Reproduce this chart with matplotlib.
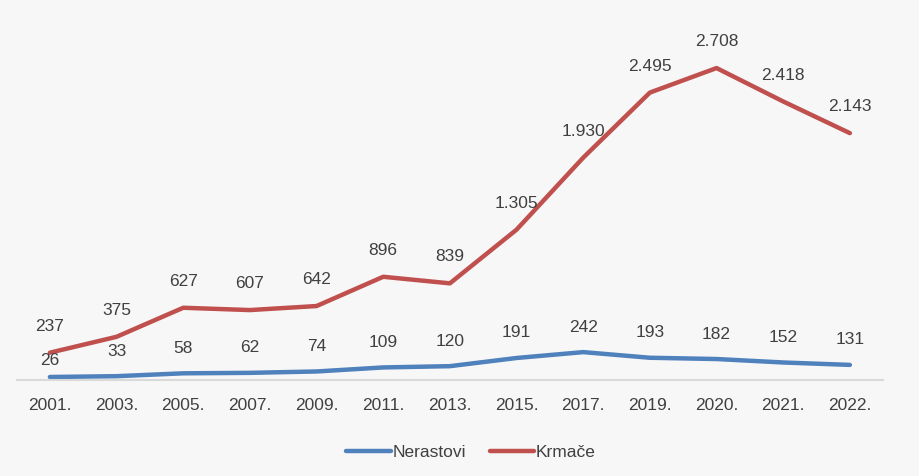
import matplotlib
matplotlib.use("Agg")
import matplotlib.pyplot as plt

years = ["2001.", "2003.", "2005.", "2007.", "2009.", "2011.", "2013.", "2015.", "2017.", "2019.", "2020.", "2021.", "2022."]
nerastovi = [26, 33, 58, 62, 74, 109, 120, 191, 242, 193, 182, 152, 131]
krmace = [237, 375, 627, 607, 642, 896, 839, 1305, 1930, 2495, 2708, 2418, 2143]

def fmt(v):
    return f"{v:,}".replace(",", ".")

fs = 12.5
plt.rcParams['font.family'] = ['Liberation Sans', 'DejaVu Sans']
bg = "#f7f7f7"
fig = plt.figure(figsize=(9.2, 4.76), dpi=100, facecolor=bg)
ax = fig.add_axes([0.018, 0.2017, 0.942, 0.726], facecolor=bg)

x = list(range(len(years)))
blue = "#4f81bd"
red = "#c0504d"
ax.plot(x, nerastovi, color=blue, lw=3.2, solid_capstyle="round", label="Nerastovi")
ax.plot(x, krmace, color=red, lw=3.2, solid_capstyle="round", label="Krmače")

txtc = "#404040"
for i, v in enumerate(nerastovi):
    off = 12 if i == 0 else 18
    ax.annotate(fmt(v), (i, v), xytext=(0, off), textcoords="offset points",
                ha="center", va="center", fontsize=fs, color=txtc)
for i, v in enumerate(krmace):
    ax.annotate(fmt(v), (i, v), xytext=(0, 19), textcoords="offset points",
                ha="center", va="center", fontsize=fs, color=txtc)

ax.set_xlim(-0.5, 12.5)
ax.set_ylim(0, 3000)
ax.set_xticks(x)
ax.set_xticklabels(years, fontsize=fs, color=txtc)
ax.tick_params(axis="x", length=0, pad=13)
ax.set_yticks([])
for s in ["top", "right", "left"]:
    ax.spines[s].set_visible(False)
ax.spines["bottom"].set_color("#d9d9d9")
ax.spines["bottom"].set_linewidth(1.5)

leg = fig.legend(loc="center", bbox_to_anchor=(0.512, 0.05), ncol=2, frameon=False,
                 fontsize=fs, handlelength=2.55, columnspacing=1.35, handletextpad=0.12)
for t in leg.get_texts():
    t.set_color(txtc)

fig.savefig("out.png", dpi=100, facecolor=bg)
